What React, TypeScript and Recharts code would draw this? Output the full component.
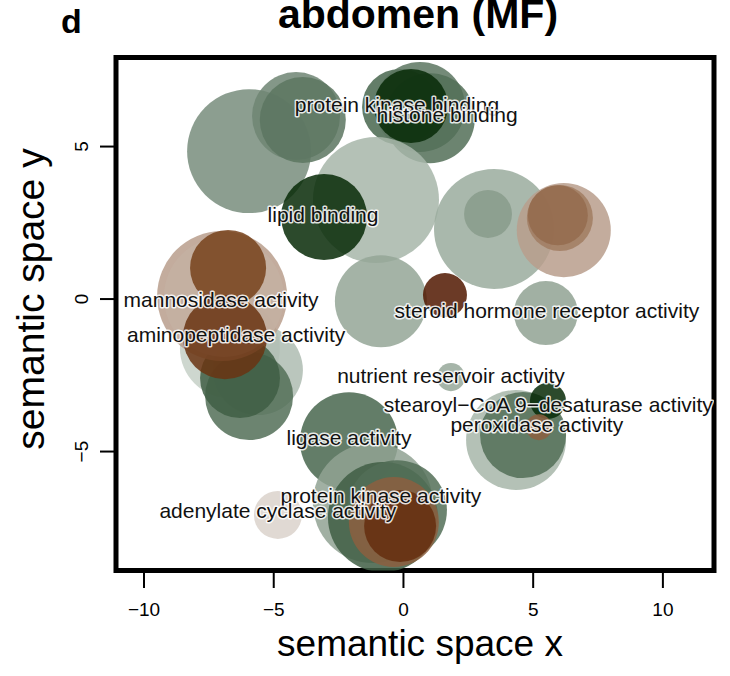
import React from 'react';
import { ScatterChart, Scatter, XAxis, YAxis, ZAxis, ReferenceArea } from 'recharts';

// Axis setup (semantic space units)
const X_TICKS = [-10, -5, 0, 5, 10];
const Y_TICKS = [-5, 0, 5];
const X_DOMAIN: [number, number] = [-11.08, 11.97];
const Y_DOMAIN: [number, number] = [-8.9, 7.92];

// GO term bubbles: position, relative size and enrichment value
const termX = [
  -5.95, -4.14, -3.88, -0.13, 0.64, 1.02, 0.29,
  -1.06, -3.06, 3.49, 3.26, 6.18, 6.03, 5.95,
  -0.87, 5.49, 1.6,
  -6.69, -5.61, -5.95, -6.3, -6.99, -6.92, -6.76, -6.88,
  -2.1, -1.18, -0.79, -0.25, -0.37, -0.13,
  -4.84, 1.83, 4.34, 4.61, 5.57, 5.22,
];
const termY = [
  4.85, 6.0, 5.87, 6.3, 6.3, 5.93, 6.33,
  3.25, 2.69, 2.3, 2.79, 2.26, 2.66, 2.75,
  -0.07, -0.46, 0.13,
  -1.61, -2.33, -3.18, -2.59, 0.1, 0.07, 1.02, -1.25,
  -4.66, -6.69, -7.15, -6.92, -7.31, -7.44,
  -7.08, -2.56, -4.62, -4.46, -3.34, -4.2,
];
const termSize = [
  68.3, 34.4, 32.9, 25.7, 36, 36, 24.3,
  70.6, 32.9, 64, 10.2, 39.3, 19.4, 16,
  37.6, 18.2, 8.6,
  44.4, 36, 34.4, 28.4, 75.1, 64, 25.7, 31.4,
  42.7, 64, 53.8, 44.4, 36, 23,
  10.2, 3.5, 44.4, 32.9, 5.8, 3.0,
];
const termValue = [
  -0.3, -0.35, -0.45, -0.55, -0.45, -0.5, -1.0,
  0.0, -1.0, -0.08, -0.2, 0.68, 0.75, 0.78,
  -0.12, -0.15, 1.0,
  0.2, 0.05, -0.5, -0.6, 0.68, 0.6, 0.85, 0.9,
  -0.55, -0.15, -0.6, -0.5, 0.8, 0.92,
  0.45, -0.1, 0.0, -0.5, -1.0, 0.8,
];

// Labelled terms
const labelText = [
  'protein kinase binding',
  'histone binding',
  'lipid binding',
  'mannosidase activity',
  'aminopeptidase activity',
  'steroid hormone receptor activity',
  'nutrient reservoir activity',
  'stearoyl\u2212CoA 9\u2212desaturase activity',
  'peroxidase activity',
  'ligase activity',
  'protein kinase activity',
  'adenylate cyclase activity',
];
const labelX = [-0.25, 1.68, -3.1, -7.03, -6.45, 5.53, 1.83, 5.58, 5.14, -2.1, -0.87, -4.84];
const labelY = [6.36, 6.06, 2.77, -0.01, -1.16, -0.39, -2.52, -3.45, -4.11, -4.54, -6.46, -6.95];

// Diverging colour scale: green (low) -> pale -> brown (high)
const paletteStops = [-1.0, -0.6, -0.3, 0.0, 0.25, 0.45, 0.7, 0.85, 1.0];
const paletteColors = [
  '#072a07', '#3f5e44', '#788d7c', '#a7b6a9', '#ccd6cf',
  '#dad2cb', '#b69a86', '#77421b', '#511700',
];

const bubbles = termX.map((x, i) => ({
  x,
  y: termY[i],
  size: termSize[i],
  value: termValue[i],
}));

const labels = labelText.map((text, i) => ({ x: labelX[i], y: labelY[i], text }));

const FONT = '"Liberation Sans", Arial, Helvetica, sans-serif';

function hexToRgb(h: string): number[] {
  const n = parseInt(h.slice(1), 16);
  return [(n >> 16) & 255, (n >> 8) & 255, n & 255];
}

function colorFor(v: number): string {
  const s = paletteStops;
  if (v <= s[0]) return paletteColors[0];
  if (v >= s[s.length - 1]) return paletteColors[s.length - 1];
  let i = 0;
  while (i < s.length - 2 && v > s[i + 1]) i++;
  const t = (v - s[i]) / (s[i + 1] - s[i]);
  const a = hexToRgb(paletteColors[i]);
  const b = hexToRgb(paletteColors[i + 1]);
  const c = a.map((ch, k) => Math.round(ch + (b[k] - ch) * t));
  return `rgb(${c[0]},${c[1]},${c[2]})`;
}

const fmt = (v: number) => (v < 0 ? '\u2212' + Math.abs(v) : String(v));

const Bubble = (props: any) => {
  const { cx, cy, width, size, payload } = props;
  const r = width ? width / 2 : Math.sqrt((size || 0) / Math.PI);
  return <circle cx={cx} cy={cy} r={r} fill={colorFor(payload.value)} fillOpacity={0.85} />;
};

const TermLabel = (props: any) => {
  const { cx, cy, payload } = props;
  return (
    <text
      x={cx}
      y={cy}
      dy="0.35em"
      textAnchor="middle"
      fontFamily={FONT}
      fontSize={21}
      fill="#111"
      stroke="#ffffff"
      strokeOpacity={0.85}
      strokeWidth={3}
      strokeLinejoin="round"
      paintOrder="stroke"
    >
      {payload.text}
    </text>
  );
};

const XTick = (props: any) => {
  const { x, y, payload } = props;
  return (
    <text x={x} y={y + 28} textAnchor="middle" fontFamily={FONT} fontSize={19} fill="#000">
      {fmt(payload.value)}
    </text>
  );
};

const YTick = (props: any) => {
  const { x, y, payload } = props;
  return (
    <text
      x={x - 12}
      y={y}
      transform={`rotate(-90 ${x - 12} ${y})`}
      textAnchor="middle"
      fontFamily={FONT}
      fontSize={19}
      fill="#000"
    >
      {fmt(payload.value)}
    </text>
  );
};

const XTitle = (props: any) => {
  const vb = props.viewBox || { x: 116, y: 570.5, width: 598 };
  return (
    <text x={vb.x + vb.width / 2 + 5} y={656} textAnchor="middle" fontFamily={FONT} fontSize={37} fill="#000">
      semantic space x
    </text>
  );
};

const YTitle = () => (
  <text
    x={44}
    y={299}
    transform="rotate(-90 44 299)"
    textAnchor="middle"
    fontFamily={FONT}
    fontSize={39}
    fill="#000"
  >
    semantic space y
  </text>
);

export default function App() {
  return (
    <div style={{ position: 'absolute', left: 0, top: 0, width: 730, height: 676, background: '#fff' }}>
      <ScatterChart width={730} height={676} margin={{ top: 57.5, right: 16, bottom: 0, left: 0 }}>
        <XAxis
          type="number"
          dataKey="x"
          domain={X_DOMAIN}
          ticks={X_TICKS}
          allowDataOverflow
          height={105.5}
          axisLine={false}
          tickLine={{ stroke: '#000', strokeWidth: 2 }}
          tickSize={17.5}
          tickMargin={0}
          tick={<XTick />}
          label={<XTitle />}
        />
        <YAxis
          type="number"
          dataKey="y"
          domain={Y_DOMAIN}
          ticks={Y_TICKS}
          allowDataOverflow
          width={116}
          axisLine={false}
          tickLine={{ stroke: '#000', strokeWidth: 2 }}
          tickSize={16}
          tickMargin={0}
          tick={<YTick />}
          label={<YTitle />}
        />
        <ZAxis type="number" dataKey="size" domain={[0, 100]} range={[0, Math.PI * 75 * 75]} />
        <Scatter data={bubbles} shape={<Bubble />} isAnimationActive={false} />
        <Scatter data={labels} shape={<TermLabel />} isAnimationActive={false} />
        <ReferenceArea
          x1={X_DOMAIN[0]}
          x2={X_DOMAIN[1]}
          y1={Y_DOMAIN[0]}
          y2={Y_DOMAIN[1]}
          fill="none"
          stroke="#000"
          strokeWidth={5}
          ifOverflow="visible"
        />
      </ScatterChart>
      <svg
        width={730}
        height={676}
        style={{ position: 'absolute', left: 0, top: 0, pointerEvents: 'none' }}
      >
        <text x={61} y={33} fontFamily={FONT} fontSize={34} fontWeight="bold" fill="#000">
          d
        </text>
        <text x={418} y={28} textAnchor="middle" fontFamily={FONT} fontSize={41} fontWeight="bold" fill="#000">
          abdomen (MF)
        </text>
      </svg>
    </div>
  );
}
